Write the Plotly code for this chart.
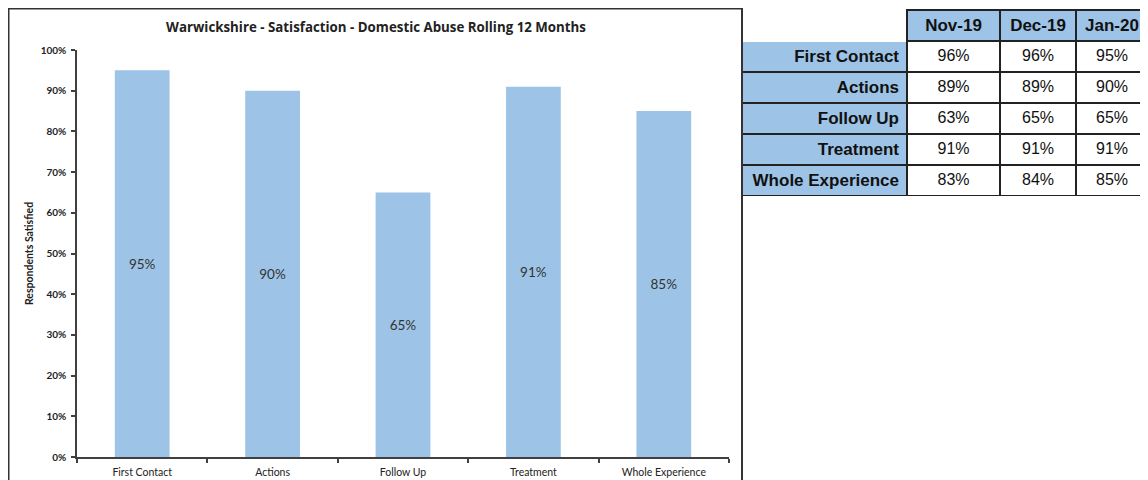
import plotly.graph_objects as go

categories = ["First Contact", "Actions", "Follow Up", "Treatment", "Whole Experience"]
latest_values = [0.95, 0.90, 0.65, 0.91, 0.85]
y_tick_values = [0, 0.1, 0.2, 0.3, 0.4, 0.5, 0.6, 0.7, 0.8, 0.9, 1.0]
y_tick_labels = ["0%", "10%", "20%", "30%", "40%", "50%", "60%", "70%", "80%", "90%", "100%"]
months = ["Nov-19", "Dec-19", "Jan-20"]
nov_19 = ["96%", "89%", "63%", "91%", "83%"]
dec_19 = ["96%", "89%", "65%", "91%", "84%"]
jan_20 = ["95%", "90%", "65%", "91%", "85%"]

# page has an 8px body margin; figure fills the rest of the 1148x480 window
OFF = 8
W, H = 1140, 472
BLUE = "#9DC3E6"

def px_x(v):
    return (v - OFF) / W

def px_y(v):
    return 1 - (v - OFF) / H

fig = go.Figure()

fig.add_trace(go.Bar(
    x=categories,
    y=latest_values,
    width=0.42,
    marker=dict(color=BLUE, line=dict(width=0)),
    text=[f"{round(v*100)}%" for v in latest_values],
    textposition="inside",
    insidetextanchor="middle",
    textangle=0,
    textfont=dict(family="Lato", size=13.5, color="#333333"),
    showlegend=False,
    hoverinfo="skip",
))

row_labels = [c.replace(" ", "\u00a0") for c in categories]

fig.add_trace(go.Table(
    domain=dict(x=[px_x(742), 1.0], y=[px_y(196), px_y(10)]),
    columnwidth=[165, 93, 76, 72],
    header=dict(
        values=[""] + months,
        fill=dict(color=["white", BLUE, BLUE, BLUE]),
        line=dict(color=["white", "#222222", "#222222", "#222222"], width=1.5),
        font=dict(family="Liberation Sans", size=17, color="#111111", weight="bold"),
        align="center",
        height=31,
    ),
    cells=dict(
        values=[row_labels, nov_19, dec_19, jan_20],
        fill=dict(color=[BLUE, "white", "white", "white"]),
        line=dict(color="#222222", width=1.5),
        font=dict(family="Liberation Sans", size=[17, 16, 16, 16], color="#111111",
                  weight=["bold", "normal", "normal", "normal"]),
        align=["right", "center", "center", "center"],
        height=31,
    ),
))

fig.update_layout(
    width=W,
    height=H,
    margin=dict(l=0, r=0, t=0, b=0),
    paper_bgcolor="white",
    plot_bgcolor="white",
    title=dict(
        text="<b>Warwickshire - Satisfaction - Domestic Abuse Rolling 12 Months</b>",
        x=px_x(376), xref="paper", xanchor="center",
        y=px_y(27), yref="paper", yanchor="middle",
        font=dict(family="Open Sans", size=13.3, color="#222222"),
    ),
    xaxis=dict(
        domain=[px_x(77), px_x(729)],
        showline=True, linecolor="#404040", linewidth=1.5,
        ticks="outside", ticklen=4, tickcolor="#404040", tickwidth=1.5,
        tickson="boundaries",
        ticklabelstandoff=5,
        tickfont=dict(family="Lato", size=10.5, color="#222222"),
        showgrid=False, zeroline=False, automargin=False,
        fixedrange=True,
    ),
    yaxis=dict(
        domain=[px_y(457), px_y(50)],
        range=[0, 1.0],
        tickvals=y_tick_values,
        ticktext=y_tick_labels,
        showline=True, linecolor="#404040", linewidth=1.5,
        ticks="outside", ticklen=4, tickcolor="#404040", tickwidth=1.5,
        ticklabelstandoff=3,
        tickfont=dict(family="Lato", size=10, color="#222222", weight="bold"),
        showgrid=False, zeroline=False, automargin=False,
        title=dict(text="Respondents Satisfied", standoff=5,
                   font=dict(family="Lato", size=10.5, color="#222222", weight="bold")),
        fixedrange=True,
    ),
    shapes=[dict(
        type="rect", xref="paper", yref="paper",
        x0=px_x(8.5), x1=px_x(742), y0=-0.02, y1=px_y(8.5),
        line=dict(color="#333333", width=2), fillcolor="rgba(0,0,0,0)",
        layer="above",
    )],
)

fig.write_html("out.html", config={"displayModeBar": False})
